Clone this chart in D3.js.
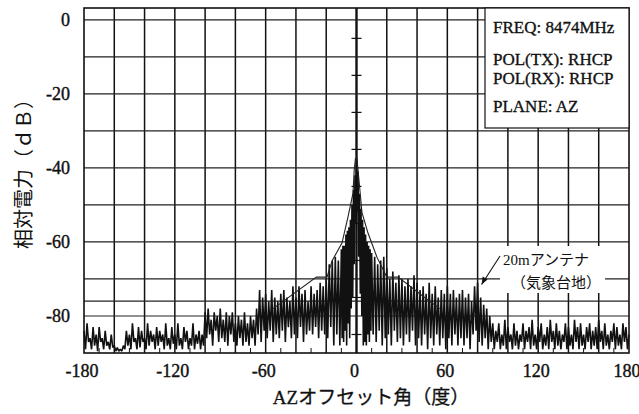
<!DOCTYPE html>
<html>
<head>
<meta charset="utf-8">
<script src="https://cdn.jsdelivr.net/npm/d3@7"></script>
<style>
  body { margin: 0; background: #fff; }
  svg { display: block; }
</style>
</head>
<body>
<svg id="chart" width="639" height="414"></svg>
<script>
// axis labels and grid positions
var azTicks = [-180, -120, -60, 0, 60, 120, 180];
var dbTicks = [0, -20, -40, -60, -80];
var azGrid = [-160, -140, -120, -100, -80, -60, -40, -20, 0, 20, 40, 60, 80, 100, 120, 140, 160];
var dbGrid = [0, -10, -20, -30, -40, -50, -60, -70, -76, -80];
var legendLines = ["FREQ: 8474MHz", "POL(TX): RHCP", "POL(RX): RHCP", "PLANE: AZ"];

// measured pattern, read off the plot (dB)
// -180 .. -11 deg, 1 deg step
var levelsLeft = [
  -84, -89, -82, -87, -86, -89, -83, -88, -85, -89.5,
  -83, -87, -86, -89, -84, -88, -87, -89, -85, -88.5,
  -88, -89.5, -88.5, -89.5, -89, -89.5, -88, -89, -84, -88,
  -85, -89, -82, -87, -86, -89, -83, -88.5, -84, -87,
  -86, -89, -82, -88, -84, -87, -85, -89, -83, -88,
  -84, -87, -85, -89, -82, -88, -86, -89, -83, -87.5,
  -85, -89, -82, -88, -86, -89, -83, -87, -84, -89,
  -86, -88, -82, -89, -85, -87.5, -84, -89, -85, -88,
  -79, -86, -78, -85, -81, -88, -79, -84, -80, -87,
  -78, -86, -81, -87, -79, -88, -80, -85, -79, -87,
  -82, -88, -80, -86, -81, -88, -79, -87, -82, -88,
  -80, -86, -81, -88, -78, -85, -73, -87, -75, -84,
  -74, -86, -76, -84, -73, -87, -75, -85, -76, -86,
  -74, -84, -73, -87, -75, -83, -76, -86, -72, -85,
  -75, -86, -72, -83, -74, -87, -73, -85, -76, -84,
  -72, -85, -74, -83, -73, -86, -71, -84, -72, -85,
  -70, -86, -66, -83, -65, -88, -64, -85, -65, -88
];
// -10 .. 10 deg, 0.5 deg step
var levelsCore = [
  -62, -86, -61, -87, -61, -84, -58, -88, -57, -82,
  -56, -86, -54, -78, -50, -75, -46, -66, -42, -55,
  -38,
  -52, -41, -64, -47, -74, -51, -80, -54, -88, -56,
  -87, -58, -88, -60, -85, -61, -87, -62, -84, -63
];
// 11 .. 180 deg, 1 deg step
var levelsRight = [
  -85, -64, -87, -66, -84, -65, -88, -64, -86, -67,
  -85, -70, -88, -68, -84, -71, -87, -69, -86, -70,
  -88, -72, -85, -70, -87, -72, -84, -69, -88, -71,
  -86, -73, -88, -72, -85, -74, -89, -71, -86, -74,
  -88, -72, -85, -75, -88, -73, -86, -74, -89, -72,
  -86, -74, -88, -73, -85, -75, -88, -74, -86, -73,
  -88, -75, -86, -74, -89, -76, -85, -72, -84, -71,
  -87, -75, -88, -77, -86, -78, -89, -80, -87, -82,
  -89, -84, -87, -82, -89, -85, -88, -81, -89, -83,
  -87, -85, -89, -82, -88, -84, -89, -85, -87, -82,
  -89, -84, -87, -83, -89, -81, -88, -85, -89, -83,
  -87, -82, -89, -85, -88, -83, -89, -81, -87, -84,
  -89, -82, -88, -84, -89, -85, -87, -82, -89, -83,
  -88, -85, -89, -81, -87, -83, -89, -82, -88, -85,
  -89, -83, -87, -82, -89, -84, -88, -83, -89, -81,
  -87, -84, -89, -82, -88, -85, -89, -84, -87, -82,
  -89, -83, -88, -85, -89, -82, -87, -83, -89, -85
];

// sidelobe mask line
var maskAz = [-55, -26.5, -19.5, -16, -9.6, -5.6, -2.3, -1.5, -0.7, 0.3, 1, 3.6, 7.6, 13.5, 20, 27.5, 45, 55];
var maskDb = [-78, -69.5, -69.5, -65, -60.3, -53.2, -46.8, -40.5, -37.5, -37.5, -40.5, -52, -57.6, -64.1, -69.5, -69.5, -75, -78];

var serif = "'Liberation Serif', 'Times New Roman', 'Noto Sans CJK JP', serif";
var plot = { left: 84, right: 629, top: 8, bottom: 353 };

var svg = d3.select("#chart");

var x = d3.scaleLinear().domain([-180, 180]).range([plot.left, plot.right]);
var y = d3.scaleLinear().domain([-90, 3.2]).range([plot.bottom, plot.top]);

// grid
svg.append("g")
  .selectAll("line")
  .data(azGrid)
  .enter()
  .append("line")
  .attr("x1", (d) => x(d))
  .attr("x2", (d) => x(d))
  .attr("y1", plot.top)
  .attr("y2", plot.bottom)
  .attr("stroke", "#111")
  .attr("stroke-width", (d) => (d == 0 ? 2.4 : 1.5));

svg.append("g")
  .selectAll("line")
  .data(dbGrid)
  .enter()
  .append("line")
  .attr("x1", plot.left)
  .attr("x2", plot.right)
  .attr("y1", (d) => y(d))
  .attr("y2", (d) => y(d))
  .attr("stroke", "#222")
  .attr("stroke-width", 1.2);

// little cross marks on the 0 deg line
svg.append("g")
  .selectAll("line")
  .data(d3.range(-5, -90, -10))
  .enter()
  .append("line")
  .attr("x1", x(0) - 5)
  .attr("x2", x(0) + 5)
  .attr("y1", (d) => y(d))
  .attr("y2", (d) => y(d))
  .attr("stroke", "#111")
  .attr("stroke-width", 1.2);

// minor ticks along the bottom
svg.append("g")
  .selectAll("line")
  .data(d3.range(-170, 180, 20))
  .enter()
  .append("line")
  .attr("x1", (d) => x(d))
  .attr("x2", (d) => x(d))
  .attr("y1", plot.bottom)
  .attr("y2", plot.bottom - 5)
  .attr("stroke", "#111")
  .attr("stroke-width", 1);

// measured trace
var trace = levelsLeft
  .map((v, i) => [-180 + i, v])
  .concat(levelsCore.map((v, i) => [-10 + i * 0.5, v]))
  .concat(levelsRight.map((v, i) => [11 + i, v]));

var line = d3.line()
  .x((d) => x(d[0]))
  .y((d) => y(d[1]));

svg.append("path")
  .datum(trace)
  .attr("fill", "none")
  .attr("stroke", "#111")
  .attr("stroke-width", 1.6)
  .attr("stroke-linejoin", "bevel")
  .attr("d", line);

// mask
svg.append("path")
  .datum(maskAz.map((a, i) => [a, maskDb[i]]))
  .attr("fill", "none")
  .attr("stroke", "#222")
  .attr("stroke-width", 1.1)
  .attr("d", line);

// frame
svg.append("rect")
  .attr("x", plot.left)
  .attr("y", plot.top)
  .attr("width", plot.right - plot.left)
  .attr("height", plot.bottom - plot.top)
  .attr("fill", "none")
  .attr("stroke", "#111")
  .attr("stroke-width", 1.6);

// tick labels
svg.append("g")
  .selectAll("text")
  .data(azTicks)
  .enter()
  .append("text")
  .attr("x", (d) => x(d) - 2)
  .attr("y", 377)
  .attr("text-anchor", "middle")
  .attr("font-family", serif)
  .attr("font-size", 18)
  .attr("fill", "#111")
  .attr("stroke", "#111")
  .attr("stroke-width", 0.4)
  .text((d) => d);

svg.append("g")
  .selectAll("text")
  .data(dbTicks)
  .enter()
  .append("text")
  .attr("x", 70)
  .attr("y", (d) => y(d) + 6)
  .attr("text-anchor", "end")
  .attr("font-family", serif)
  .attr("font-size", 18)
  .attr("fill", "#111")
  .attr("stroke", "#111")
  .attr("stroke-width", 0.4)
  .text((d) => d);

// axis titles
svg.append("text")
  .attr("x", 371)
  .attr("y", 404)
  .attr("text-anchor", "middle")
  .attr("font-family", serif)
  .attr("font-size", 19)
  .attr("fill", "#111")
  .attr("stroke", "#111")
  .attr("stroke-width", 0.3)
  .text("AZオフセット角（度）");

svg.append("text")
  .attr("transform", "translate(24,169) rotate(-90)")
  .attr("text-anchor", "middle")
  .attr("dominant-baseline", "central")
  .attr("font-family", serif)
  .attr("font-size", 20)
  .attr("fill", "#111")
  .text("相対電力（ｄＢ）");

// legend box
svg.append("rect")
  .attr("x", 485)
  .attr("y", plot.top)
  .attr("width", plot.right - 485)
  .attr("height", 120)
  .attr("fill", "#fff")
  .attr("stroke", "#111")
  .attr("stroke-width", 1.2);

var legendY = [33, 65, 84, 112];
svg.append("g")
  .selectAll("text")
  .data(legendLines)
  .enter()
  .append("text")
  .attr("x", 493)
  .attr("y", (d, i) => legendY[i])
  .attr("font-family", serif)
  .attr("font-size", 17)
  .attr("fill", "#111")
  .attr("stroke", "#111")
  .attr("stroke-width", 0.35)
  .text((d) => d);

// antenna note with arrow
svg.append("rect")
  .attr("x", 500)
  .attr("y", 246)
  .attr("width", 105)
  .attr("height", 47)
  .attr("fill", "#fff");

svg.append("text")
  .attr("x", 503)
  .attr("y", 265)
  .attr("font-family", serif)
  .attr("font-size", 15)
  .attr("fill", "#111")
  .text("20mアンテナ");

svg.append("text")
  .attr("x", 511)
  .attr("y", 288)
  .attr("font-family", serif)
  .attr("font-size", 15)
  .attr("fill", "#111")
  .text("（気象台地）");

var tip = [x(80) + 4, y(-71.5)];
svg.append("line")
  .attr("x1", 500)
  .attr("y1", 256)
  .attr("x2", tip[0])
  .attr("y2", tip[1])
  .attr("stroke", "#111")
  .attr("stroke-width", 1.1);

svg.append("path")
  .attr("d", `M${tip[0]},${tip[1]} l1,-8 l5,3 z`)
  .attr("fill", "#111");
</script>
</body>
</html>
